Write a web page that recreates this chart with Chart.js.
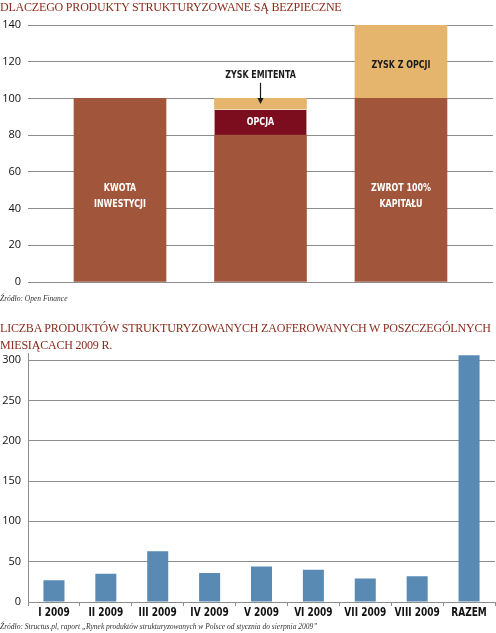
<!DOCTYPE html>
<html>
<head>
<meta charset="utf-8">
<script src="https://cdn.jsdelivr.net/npm/chart.js@4/dist/chart.umd.min.js"></script>
<style>
    body { margin: 0; width: 496px; height: 633px; background: #fff; position: relative; overflow: hidden; }
    .title { position: absolute; left: 0; font-family: "Liberation Serif", serif; font-size: 12px; color: #8a2c1c; white-space: nowrap; z-index: 2; letter-spacing: -0.2px; }
    .source { position: absolute; left: 0; font-family: "Liberation Serif", serif; font-style: italic; font-size: 7.5px; color: #333; white-space: nowrap; z-index: 2; }
    .box { position: absolute; left: 0; width: 496px; }
</style>
</head>
<body>

<div class="title" style="top: 0px;">DLACZEGO PRODUKTY STRUKTURYZOWANE SĄ BEZPIECZNE</div>
<div class="box" style="top: 0px; height: 300px;"><canvas id="safeChart"></canvas></div>
<div class="source" style="top: 294px;">Źródło: Open Finance</div>

<div class="title" style="top: 320px; line-height: 16.5px;">LICZBA PRODUKTÓW STRUKTURYZOWANYCH ZAOFEROWANYCH W POSZCZEGÓLNYCH<br>MIESIĄCACH 2009 R.</div>
<div class="box" style="top: 340px; height: 282px;"><canvas id="countChart"></canvas></div>
<div class="source" style="top: 622px;">Źródło: Structus.pl, raport „Rynek produktów strukturyzowanych w Polsce od stycznia do sierpnia 2009”</div>

<script>
// --- chart 1 data ---
const safeBars = ['Kwota inwestycji', 'Produkt', 'Zwrot'];
const capitalPart = [100, 80, 100];
const optionPart = [null, 14, null];
const profitPart = [null, 6, 40];
const capitalLabels = [['KWOTA', 'INWESTYCJI'], null, ['ZWROT 100%', 'KAPITAŁU']];
const optionLabels = [null, ['OPCJA'], null];
const profitLabels = [null, null, ['ZYSK Z OPCJI']];
const safeTicks = [0, 20, 40, 60, 80, 100, 120, 140];

// --- chart 2 data ---
const months = ['I 2009', 'II 2009', 'III 2009', 'IV 2009', 'V 2009', 'VI 2009', 'VII 2009', 'VIII 2009', 'RAZEM'];
const productCounts = [27, 35, 63, 36, 44, 40, 29, 32, 306];

const condFont = '"DejaVu Sans Condensed", "DejaVu Sans", sans-serif';
const tickFont = { family: '"Open Sans", sans-serif', size: 11 };
const gridGray = '#8c8c8c';
const squeeze = 0.8;

Chart.defaults.animation = false;

function points(values) {
    return values.map((v, i) => ({ x: i, y: v }));
}

// narrow bold text, the original uses a condensed face
function narrowText(ctx, text, x, y, size) {
    ctx.save();
    ctx.font = 'bold ' + size + 'px ' + condFont;
    ctx.translate(x, y);
    ctx.scale(squeeze, 1);
    ctx.fillText(text, 0, 0);
    ctx.restore();
}

// writes the text labels into the bar segments
const segmentText = {
    id: 'segmentText',
    afterDatasetsDraw(chart) {
        const ctx = chart.ctx;
        const sets = [capitalLabels, optionLabels, profitLabels];
        const nudge = [6, 0, 3];
        ctx.save();
        ctx.textAlign = 'center';
        ctx.textBaseline = 'middle';
        sets.forEach((labels, di) => {
            const meta = chart.getDatasetMeta(di);
            labels.forEach((lines, i) => {
                if (!lines) return;
                const bar = meta.data[i];
                const cy = (bar.y + bar.base) / 2 + nudge[di];
                ctx.fillStyle = di === 2 ? '#1a1a1a' : '#fff';
                lines.forEach((line, k) => {
                    narrowText(ctx, line, bar.x, cy + (k - (lines.length - 1) / 2) * 16, 11);
                });
            });
        });

        // issuer profit callout above the middle bar
        const y = chart.scales.y;
        const bar = chart.getDatasetMeta(2).data[1];
        ctx.fillStyle = '#1a1a1a';
        narrowText(ctx, 'ZYSK EMITENTA', bar.x, y.getPixelForValue(112.5), 11);
        const top = y.getPixelForValue(108.5);
        const tip = y.getPixelForValue(97);
        ctx.strokeStyle = '#1a1a1a';
        ctx.lineWidth = 1.2;
        ctx.beginPath();
        ctx.moveTo(bar.x, top);
        ctx.lineTo(bar.x, tip - 3);
        ctx.stroke();
        ctx.beginPath();
        ctx.moveTo(bar.x - 3, tip - 6);
        ctx.lineTo(bar.x + 3, tip - 6);
        ctx.lineTo(bar.x, tip);
        ctx.closePath();
        ctx.fill();
        ctx.restore();
    }
};

// month labels under the axis, drawn narrow
const monthText = {
    id: 'monthText',
    afterDraw(chart) {
        const ctx = chart.ctx;
        const x = chart.scales.x;
        ctx.save();
        ctx.fillStyle = '#111';
        ctx.textAlign = 'center';
        ctx.textBaseline = 'middle';
        months.forEach((m, i) => {
            narrowText(ctx, m, x.getPixelForValue(i), x.top + 11, 12.5);
        });
        ctx.restore();
    }
};

new Chart(document.getElementById('safeChart'), {
    type: 'bar',
    data: {
        labels: safeBars,
        datasets: [
            { label: 'Kapitał', data: points(capitalPart), backgroundColor: '#a1563b' },
            { label: 'Opcja', data: points(optionPart), backgroundColor: '#7c0d1e',
              borderColor: '#f2dcc0', borderWidth: { top: 1, left: 0, right: 0, bottom: 0 }, borderSkipped: false },
            { label: 'Zysk', data: points(profitPart), backgroundColor: '#e6b56d' }
        ]
    },
    options: {
        responsive: true,
        maintainAspectRatio: false,
        layout: { padding: { top: 25, bottom: 18, right: 3, left: 0 } },
        barThickness: 92,
        plugins: { legend: { display: false }, tooltip: { enabled: false } },
        scales: {
            x: {
                type: 'linear',
                offset: false,
                bounds: 'data',
                min: -0.655,
                max: 2.655,
                stacked: true,
                display: false,
                grid: { offset: false },
                afterDataLimits: (scale) => { scale.min = -0.655; scale.max = 2.655; }
            },
            y: {
                stacked: true,
                min: 0,
                max: 140,
                afterBuildTicks: (scale) => { scale.ticks = safeTicks.map(v => ({ value: v })); },
                afterFit: (scale) => { scale.width = 28; },
                border: { display: false },
                grid: { color: gridGray, drawTicks: false },
                ticks: { color: '#111', font: tickFont, padding: 7 }
            }
        }
    },
    plugins: [segmentText]
});

new Chart(document.getElementById('countChart'), {
    type: 'bar',
    data: {
        labels: months,
        datasets: [{
            label: 'Liczba produktów',
            data: productCounts,
            backgroundColor: '#588ab3',
            categoryPercentage: 1,
            barPercentage: 0.405
        }]
    },
    options: {
        responsive: true,
        maintainAspectRatio: false,
        layout: { padding: { top: 12, bottom: 0, right: 1, left: 0 } },
        plugins: { legend: { display: false }, tooltip: { enabled: false } },
        scales: {
            x: {
                afterFit: (scale) => { scale.height = 20; },
                border: { display: true, color: gridGray },
                grid: { drawOnChartArea: false, drawTicks: true, tickLength: 4, color: gridGray },
                ticks: { display: false }
            },
            y: {
                min: 0,
                max: 308,
                ticks: { stepSize: 50, includeBounds: false, color: '#111', font: tickFont, padding: 7 },
                afterFit: (scale) => { scale.width = 28; },
                border: { display: true, color: gridGray },
                grid: { color: gridGray, drawTicks: false }
            }
        }
    },
    plugins: [monthText]
});
</script>
</body>
</html>
